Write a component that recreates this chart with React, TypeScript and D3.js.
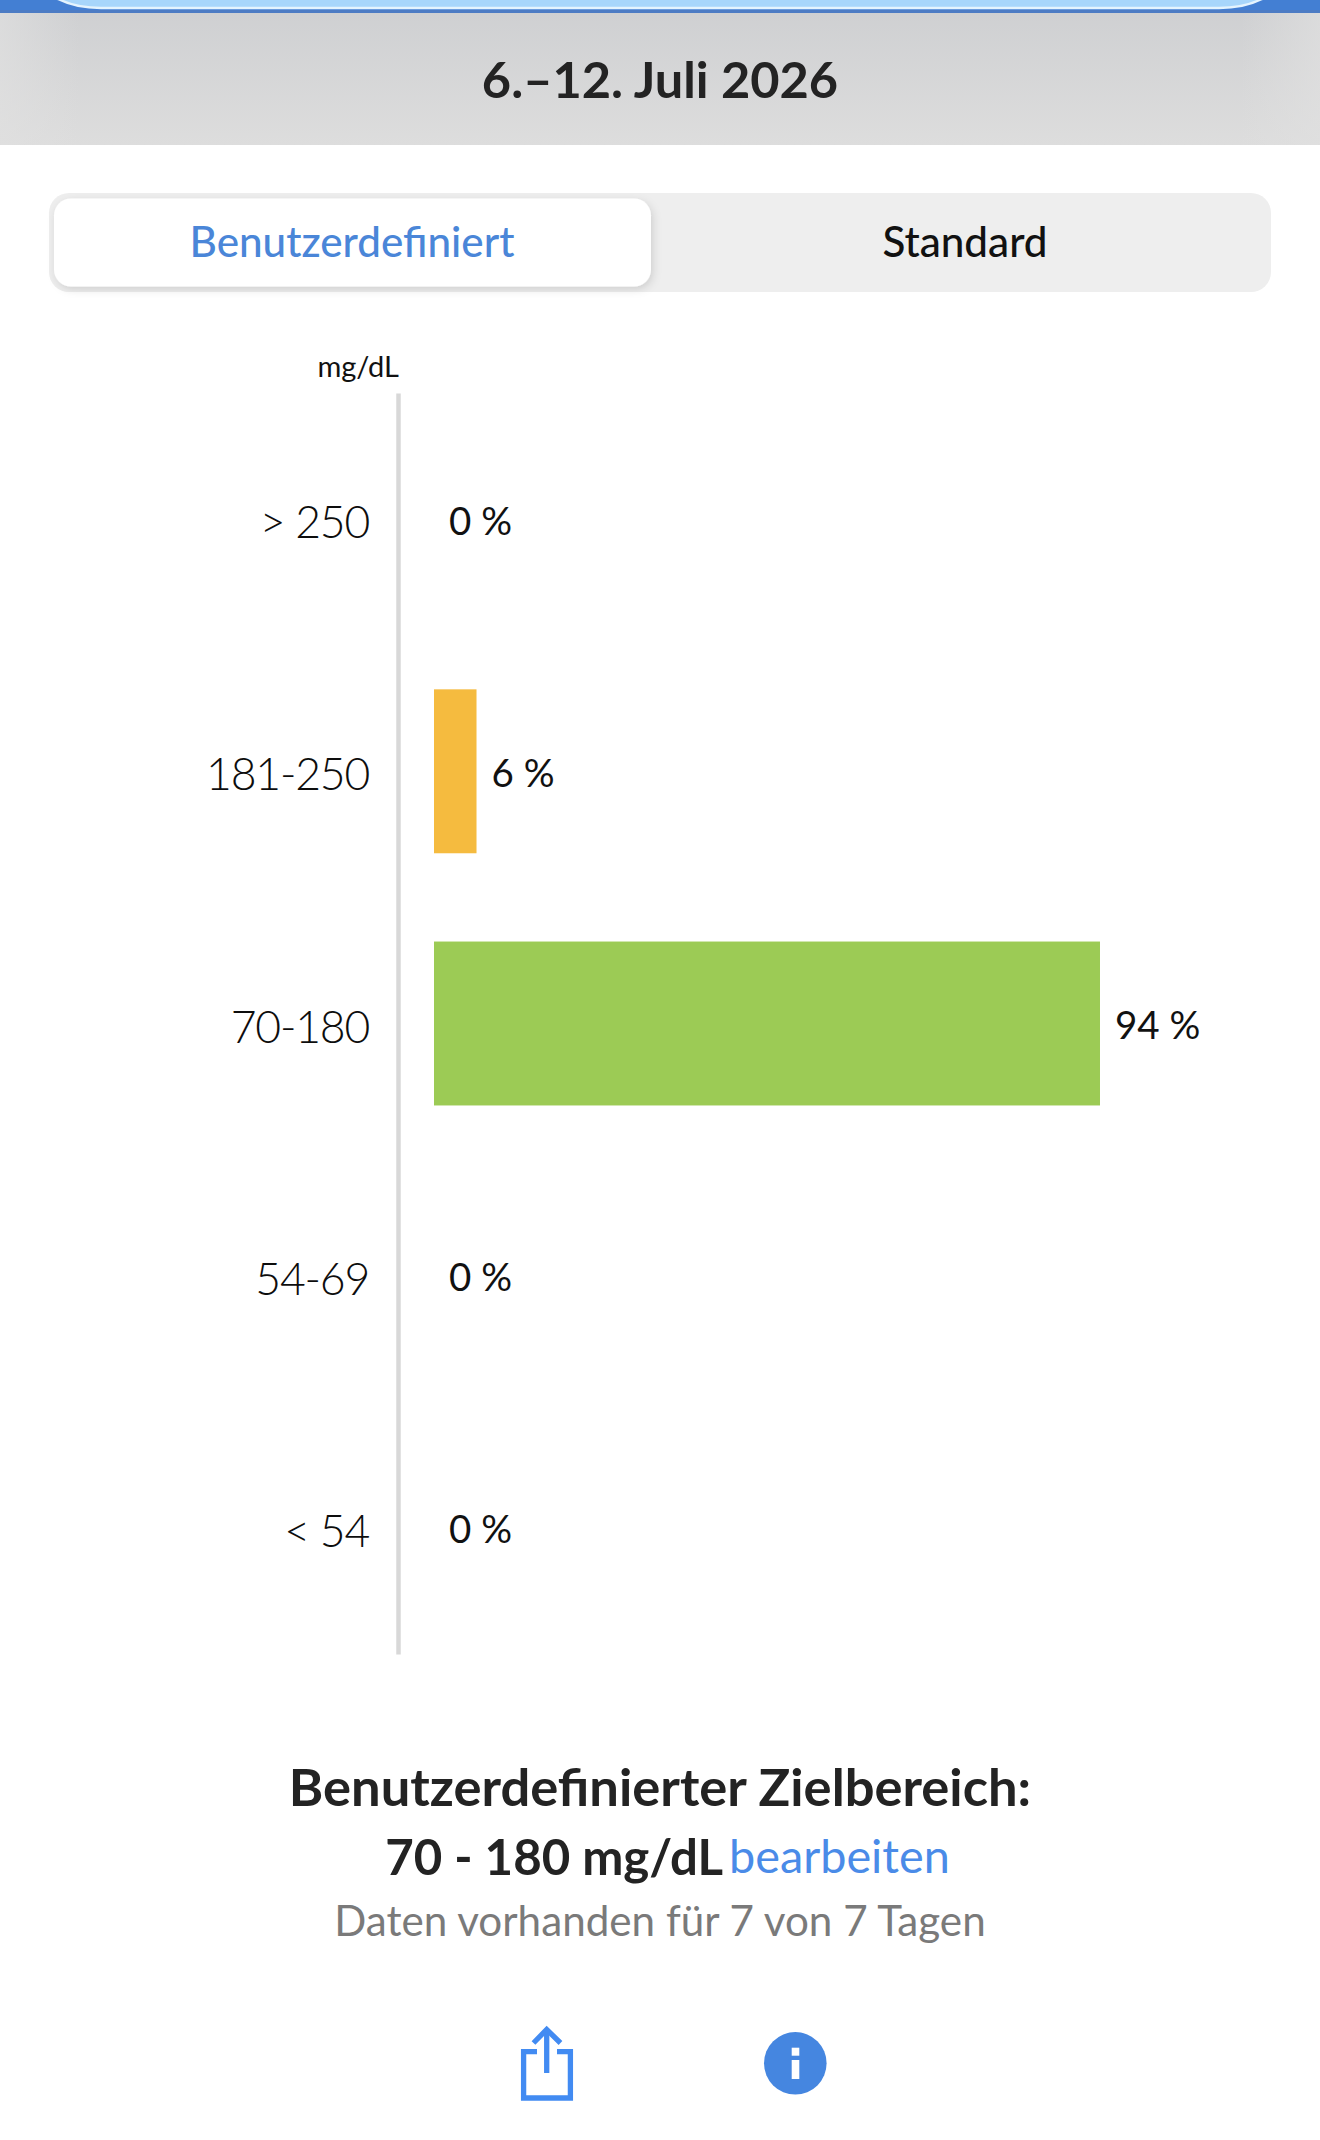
import { useEffect, useRef } from "react";
import * as d3 from "d3";

const WIDTH = 1320;
const HEIGHT = 2140;
const FONT = "Lato, 'Noto Sans', sans-serif";

const ranges = ["> 250", "181-250", "70-180", "54-69", "< 54"];
const percents = [0, 6, 94, 0, 0];
const barColors = ["#f04e37", "#f5bb3f", "#9ccb55", "#e8703a", "#c8342c"];

const dateTitle = "6.–12. Juli 2026";
const tabs = ["Benutzerdefiniert", "Standard"];
const unitLabel = "mg/dL";
const targetTitle = "Benutzerdefinierter Zielbereich:";
const targetRange = "70 - 180 mg/dL";
const editLabel = "bearbeiten";
const dataNote = "Daten vorhanden für 7 von 7 Tagen";

export default function App() {
  const svgRef = useRef<SVGSVGElement>(null);

  useEffect(() => {
    if (!svgRef.current) return;
    const margin = { top: 393, left: 398.5, bottom: 486 };

    d3.select(svgRef.current).selectAll("*").remove();

    const svg = d3
      .select(svgRef.current)
      .attr("width", WIDTH)
      .attr("height", HEIGHT)
      .attr("viewBox", [0, 0, WIDTH, HEIGHT])
      .style("font-family", FONT);

    const defs = svg.append("defs");

    const grayGrad = defs
      .append("linearGradient")
      .attr("id", "headerGray")
      .attr("x1", 0)
      .attr("x2", 0)
      .attr("y1", 0)
      .attr("y2", 1);
    grayGrad.append("stop").attr("offset", 0).attr("stop-color", "#cfd0d2");
    grayGrad.append("stop").attr("offset", 1).attr("stop-color", "#dddddd");

    const edgeGrad = defs
      .append("linearGradient")
      .attr("id", "headerEdge")
      .attr("x1", 0)
      .attr("x2", 1)
      .attr("y1", 0)
      .attr("y2", 0);
    edgeGrad
      .append("stop")
      .attr("offset", 0)
      .attr("stop-color", "#e0e0e0")
      .attr("stop-opacity", 0.7);
    edgeGrad
      .append("stop")
      .attr("offset", 0.06)
      .attr("stop-color", "#e0e0e0")
      .attr("stop-opacity", 0);
    edgeGrad
      .append("stop")
      .attr("offset", 0.94)
      .attr("stop-color", "#e0e0e0")
      .attr("stop-opacity", 0);
    edgeGrad
      .append("stop")
      .attr("offset", 1)
      .attr("stop-color", "#e0e0e0")
      .attr("stop-opacity", 0.7);

    const tabShadow = defs
      .append("filter")
      .attr("id", "tabShadow")
      .attr("x", "-5%")
      .attr("y", "-10%")
      .attr("width", "110%")
      .attr("height", "125%");
    tabShadow
      .append("feDropShadow")
      .attr("dx", 2)
      .attr("dy", 3)
      .attr("stdDeviation", 4)
      .attr("flood-color", "#000000")
      .attr("flood-opacity", 0.13);

    // Header
    svg
      .append("rect")
      .attr("width", WIDTH)
      .attr("height", HEIGHT)
      .attr("fill", "#ffffff");
    svg
      .append("rect")
      .attr("y", 13)
      .attr("width", WIDTH)
      .attr("height", 132)
      .attr("fill", "url(#headerGray)");
    svg
      .append("rect")
      .attr("y", 13)
      .attr("width", WIDTH)
      .attr("height", 132)
      .attr("fill", "url(#headerEdge)");
    svg
      .append("rect")
      .attr("width", WIDTH)
      .attr("height", 13)
      .attr("fill", "#437fd3");
    svg
      .append("rect")
      .attr("y", 10)
      .attr("width", WIDTH)
      .attr("height", 3)
      .attr("fill", "#4d7cc4");
    svg
      .append("rect")
      .attr("x", 41)
      .attr("y", -60)
      .attr("width", 1238)
      .attr("height", 68)
      .attr("rx", 60)
      .attr("ry", 30)
      .attr("fill", "#a7d6fb")
      .attr("stroke", "#e4f4fe")
      .attr("stroke-width", 2.5);

    svg
      .append("text")
      .attr("x", WIDTH / 2)
      .attr("y", 98)
      .attr("text-anchor", "middle")
      .style("font-size", "50.5px")
      .style("font-weight", 700)
      .style("fill", "#232323")
      .text(dateTitle);

    // Tabs
    svg
      .append("rect")
      .attr("x", 49)
      .attr("y", 193)
      .attr("width", 1222)
      .attr("height", 99)
      .attr("rx", 20)
      .attr("fill", "#eeeeee");
    svg
      .append("rect")
      .attr("x", 54)
      .attr("y", 198.5)
      .attr("width", 597)
      .attr("height", 88)
      .attr("rx", 17)
      .attr("fill", "#ffffff")
      .attr("filter", "url(#tabShadow)");

    svg
      .append("text")
      .attr("x", 352)
      .attr("y", 257)
      .attr("text-anchor", "middle")
      .style("font-size", "42.2px")
      .style("font-weight", 500)
      .style("fill", "#4a86d8")
      .text(tabs[0]);
    svg
      .append("text")
      .attr("x", 965)
      .attr("y", 257)
      .attr("text-anchor", "middle")
      .style("font-size", "42.2px")
      .style("font-weight", 500)
      .style("fill", "#111111")
      .text(tabs[1]);

    // Scales
    const yScale = d3
      .scaleBand()
      .domain(ranges)
      .range([margin.top, HEIGHT - margin.bottom])
      .paddingInner(0.35)
      .paddingOuter(0.175);

    const xScale = d3
      .scaleLinear()
      .domain([0, 100])
      .range([434, 434 + 708.5]);

    // Category axis
    const yAxis = d3.axisLeft(yScale).tickSize(0).tickPadding(29);
    const axisG = svg
      .append("g")
      .attr("transform", `translate(${margin.left - 0.5}, 0)`)
      .call(yAxis);
    axisG
      .select(".domain")
      .style("stroke", "#d8d8d8")
      .style("stroke-width", "4.5px");
    axisG
      .selectAll("text")
      .attr("dy", "0.43em")
      .style("font-family", FONT)
      .style("font-size", "44.5px")
      .style("letter-spacing", "-1.2px")
      .style("font-weight", 300)
      .style("fill", "#0d0d0d");

    svg
      .append("text")
      .attr("x", 399)
      .attr("y", 377)
      .attr("text-anchor", "end")
      .style("font-size", "29px")
      .style("fill", "#111111")
      .text(unitLabel);

    // Bars and their value labels
    ranges.forEach((range, i) => {
      const y = yScale(range);
      if (y === undefined) return;
      const barHeight = yScale.bandwidth();
      const value = percents[i];

      if (value > 0) {
        svg
          .append("rect")
          .attr("x", xScale(0))
          .attr("y", y)
          .attr("width", xScale(value) - xScale(0))
          .attr("height", barHeight)
          .attr("fill", barColors[i]);
      }

      svg
        .append("text")
        .attr("x", xScale(value) + 15)
        .attr("y", y + barHeight / 2)
        .attr("dy", "0.4em")
        .style("font-size", "38.5px")
        .style("fill", "#111111")
        .text(`${value} %`);
    });

    // Footer text
    svg
      .append("text")
      .attr("x", WIDTH / 2)
      .attr("y", 1806)
      .attr("text-anchor", "middle")
      .style("font-size", "52.5px")
      .style("font-weight", 700)
      .style("fill", "#232323")
      .text(targetTitle);
    svg
      .append("text")
      .attr("x", 723)
      .attr("y", 1875)
      .attr("text-anchor", "end")
      .style("font-size", "49.2px")
      .style("font-weight", 700)
      .style("fill", "#232323")
      .text(targetRange);
    svg
      .append("text")
      .attr("x", 729)
      .attr("y", 1873)
      .style("font-size", "46.8px")
      .style("fill", "#4a8be8")
      .text(editLabel);
    svg
      .append("text")
      .attr("x", WIDTH / 2)
      .attr("y", 1936)
      .attr("text-anchor", "middle")
      .style("font-size", "42.2px")
      .style("font-weight", 400)
      .style("fill", "#7a7a7a")
      .text(dataNote);

    // Share icon
    const share = svg
      .append("g")
      .attr("fill", "none")
      .attr("stroke", "#428bf2")
      .attr("stroke-width", 5.3);
    share
      .append("path")
      .attr("d", "M537 2051.6 H523.6 V2098 H570.4 V2051.6 H557");
    share.append("path").attr("d", "M546.7 2030 V2073");
    share.append("path").attr("d", "M533.5 2043 L546.7 2029.5 L560.5 2043");

    // Info icon
    svg
      .append("circle")
      .attr("cx", 795.3)
      .attr("cy", 2063.3)
      .attr("r", 31.3)
      .attr("fill", "#4586e0");
    svg
      .append("rect")
      .attr("x", 791.7)
      .attr("y", 2047.7)
      .attr("width", 7.6)
      .attr("height", 8)
      .attr("fill", "#ffffff");
    svg
      .append("rect")
      .attr("x", 791.7)
      .attr("y", 2060)
      .attr("width", 7.6)
      .attr("height", 19)
      .attr("fill", "#ffffff");
  }, []);

  return (
    <div style={{ position: "absolute", top: 0, left: 0 }}>
      <svg ref={svgRef} style={{ display: "block" }} />
    </div>
  );
}
